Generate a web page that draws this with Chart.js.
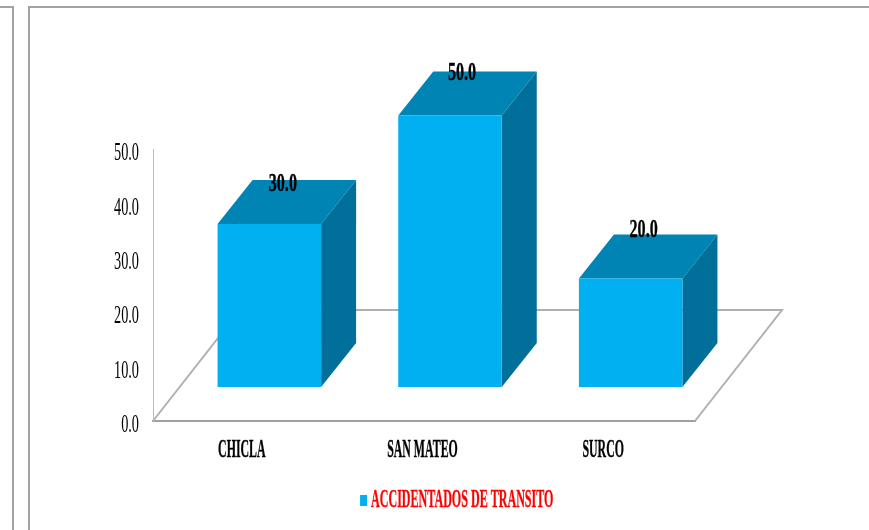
<!DOCTYPE html>
<html>
<head>
<meta charset="utf-8">
<script src="https://cdn.jsdelivr.net/npm/chart.js@4"></script>
<style>
html,body{margin:0;padding:0;background:#fff;width:869px;height:530px;overflow:hidden}
#wrap{position:relative;width:869px;height:530px}
canvas{position:absolute;left:0;top:0}
.f{position:absolute;background:#a2a2a2}
</style>
</head>
<body>
<div id="wrap">
<div class="f" style="left:0;top:6px;width:13px;height:2px"></div>
<div class="f" style="left:12px;top:6px;width:2px;height:524px"></div>
<div class="f" style="left:28px;top:6px;width:841px;height:2px"></div>
<div class="f" style="left:28px;top:6px;width:2px;height:524px"></div>
<canvas id="c" width="869" height="530"></canvas>
</div>
<script>
const categories = ["CHICLA", "SAN MATEO", "SURCO"];
const seriesName = "ACCIDENTADOS DE TRANSITO";
const seriesValues = [30, 50, 20];
const yTickStep = 10;
const yMax = 50;

const FRONT = "#00B0F0", TOP = "#0084B4", SIDE = "#006F9A";
const FLOOR_DEPTH = {dx: 87, dy: 111};
const BAR_SHIFT = {dx: 26, dy: -34};
const BAR_DEPTH = {dx: 35, dy: 44};
const LABEL_NUDGE = [[13.5, -39.5], [12, -42.5], [13, -48]];
const LEGEND_TEXT_SHIFT = -8.5;
const SERIF = '"Liberation Serif"';

function squeeze(text, font) {
  if (/^[\d.]+$/.test(text)) return /bold/.test(font) ? 0.62 : 0.55;
  return text === seriesName ? 0.482 : 0.475;
}

const condensedText = {
  id: "condensedText",
  beforeInit(chart) {
    const ctx = chart.ctx;
    const fill = ctx.fillText.bind(ctx), stroke = ctx.strokeText.bind(ctx), measure = ctx.measureText.bind(ctx);
    ctx.fillText = function (t, x, y) {
      const bold = /bold/.test(ctx.font);
      const k = squeeze(String(t), ctx.font);
      const sx = t === seriesName ? LEGEND_TEXT_SHIFT : 0;
      ctx.save(); ctx.translate(x + sx, y); ctx.scale(k, 1);
      fill(t, 0, 0);
      if (bold) { ctx.strokeStyle = ctx.fillStyle; ctx.lineWidth = 0.35; stroke(t, 0, 0); }
      ctx.restore();
    };
    ctx.measureText = function (t) {
      const m = measure(t);
      return {width: m.width * squeeze(String(t), ctx.font)};
    };
  }
};

const bars3d = {
  id: "bars3d",
  afterLayout(chart) {
    const lg = chart.legend, w = lg.width, h = lg.height;
    lg.left = 461 - w / 2; lg.right = lg.left + w;
    lg.top = 488; lg.bottom = lg.top + h;
  },
  beforeDatasetsDraw(chart) {
    const {ctx, chartArea: a} = chart;
    ctx.save();
    ctx.strokeStyle = "#b0b0b0"; ctx.lineWidth = 2;
    ctx.beginPath();
    ctx.moveTo(a.left, a.bottom);
    ctx.lineTo(a.left + FLOOR_DEPTH.dx, a.bottom - FLOOR_DEPTH.dy);
    ctx.lineTo(a.right + FLOOR_DEPTH.dx, a.bottom - FLOOR_DEPTH.dy);
    ctx.lineTo(a.right, a.bottom);
    ctx.stroke();
    ctx.restore();
  },
  beforeDatasetDraw(chart) {
    const {ctx} = chart;
    ctx.save();
    ctx.translate(BAR_SHIFT.dx, BAR_SHIFT.dy);
    chart.getDatasetMeta(0).data.forEach(b => {
      const l = b.x - b.width / 2, r = b.x + b.width / 2, t = b.y, u = b.base;
      const dx = BAR_DEPTH.dx, dy = BAR_DEPTH.dy;
      ctx.fillStyle = TOP;
      ctx.beginPath();
      ctx.moveTo(l, t); ctx.lineTo(l + dx, t - dy); ctx.lineTo(r + dx, t - dy); ctx.lineTo(r, t);
      ctx.closePath(); ctx.fill();
      ctx.fillStyle = SIDE;
      ctx.beginPath();
      ctx.moveTo(r, t); ctx.lineTo(r + dx, t - dy); ctx.lineTo(r + dx, u - dy); ctx.lineTo(r, u);
      ctx.closePath(); ctx.fill();
    });
  },
  afterDatasetDraw(chart) {
    chart.ctx.restore();
  },
  afterDatasetsDraw(chart) {
    const {ctx} = chart;
    ctx.save();
    ctx.font = "bold 26px " + SERIF;
    ctx.fillStyle = "#000";
    ctx.textAlign = "center";
    ctx.textBaseline = "middle";
    chart.getDatasetMeta(0).data.forEach((b, i) => {
      ctx.fillText(seriesValues[i].toFixed(1),
        b.x + BAR_SHIFT.dx + LABEL_NUDGE[i][0],
        b.y + BAR_SHIFT.dy + LABEL_NUDGE[i][1]);
    });
    ctx.restore();
  }
};

new Chart(document.getElementById("c"), {
  type: "bar",
  data: {
    labels: categories,
    datasets: [{
      label: seriesName,
      data: seriesValues,
      backgroundColor: FRONT,
      borderWidth: 0,
      barPercentage: 0.573,
      categoryPercentage: 1,
      clip: false
    }]
  },
  plugins: [condensedText, bars3d],
  options: {
    responsive: false,
    animation: false,
    devicePixelRatio: 1,
    layout: {padding: {left: 20, right: 174, top: 149.5, bottom: 4}},
    plugins: {
      tooltip: {enabled: false},
      title: {display: false},
      legend: {
        display: true,
        position: "bottom",
        labels: {
          boxWidth: 7, boxHeight: 11, padding: 0,
          color: "#FF0000",
          font: {family: SERIF, size: 25, weight: "bold"}
        }
      }
    },
    scales: {
      x: {
        grid: {display: false},
        border: {display: true, color: "#a0a0a0", width: 2},
        afterFit(s) { s.height = 70; },
        ticks: {
          color: "#000", padding: 7, labelOffset: -1.5, maxRotation: 0, autoSkip: false,
          font: {family: SERIF, size: 25, weight: "bold"}
        }
      },
      y: {
        min: 0, max: yMax,
        grid: {display: false},
        border: {display: true, color: "#bdbdbd", width: 1},
        afterFit(s) { s.width = 133; },
        ticks: {
          stepSize: yTickStep, color: "#000", padding: 6, labelOffset: 4,
          font: {family: SERIF, size: 26, weight: "normal"},
          callback: v => Number(v).toFixed(1)
        }
      }
    }
  }
});
</script>
</body>
</html>
